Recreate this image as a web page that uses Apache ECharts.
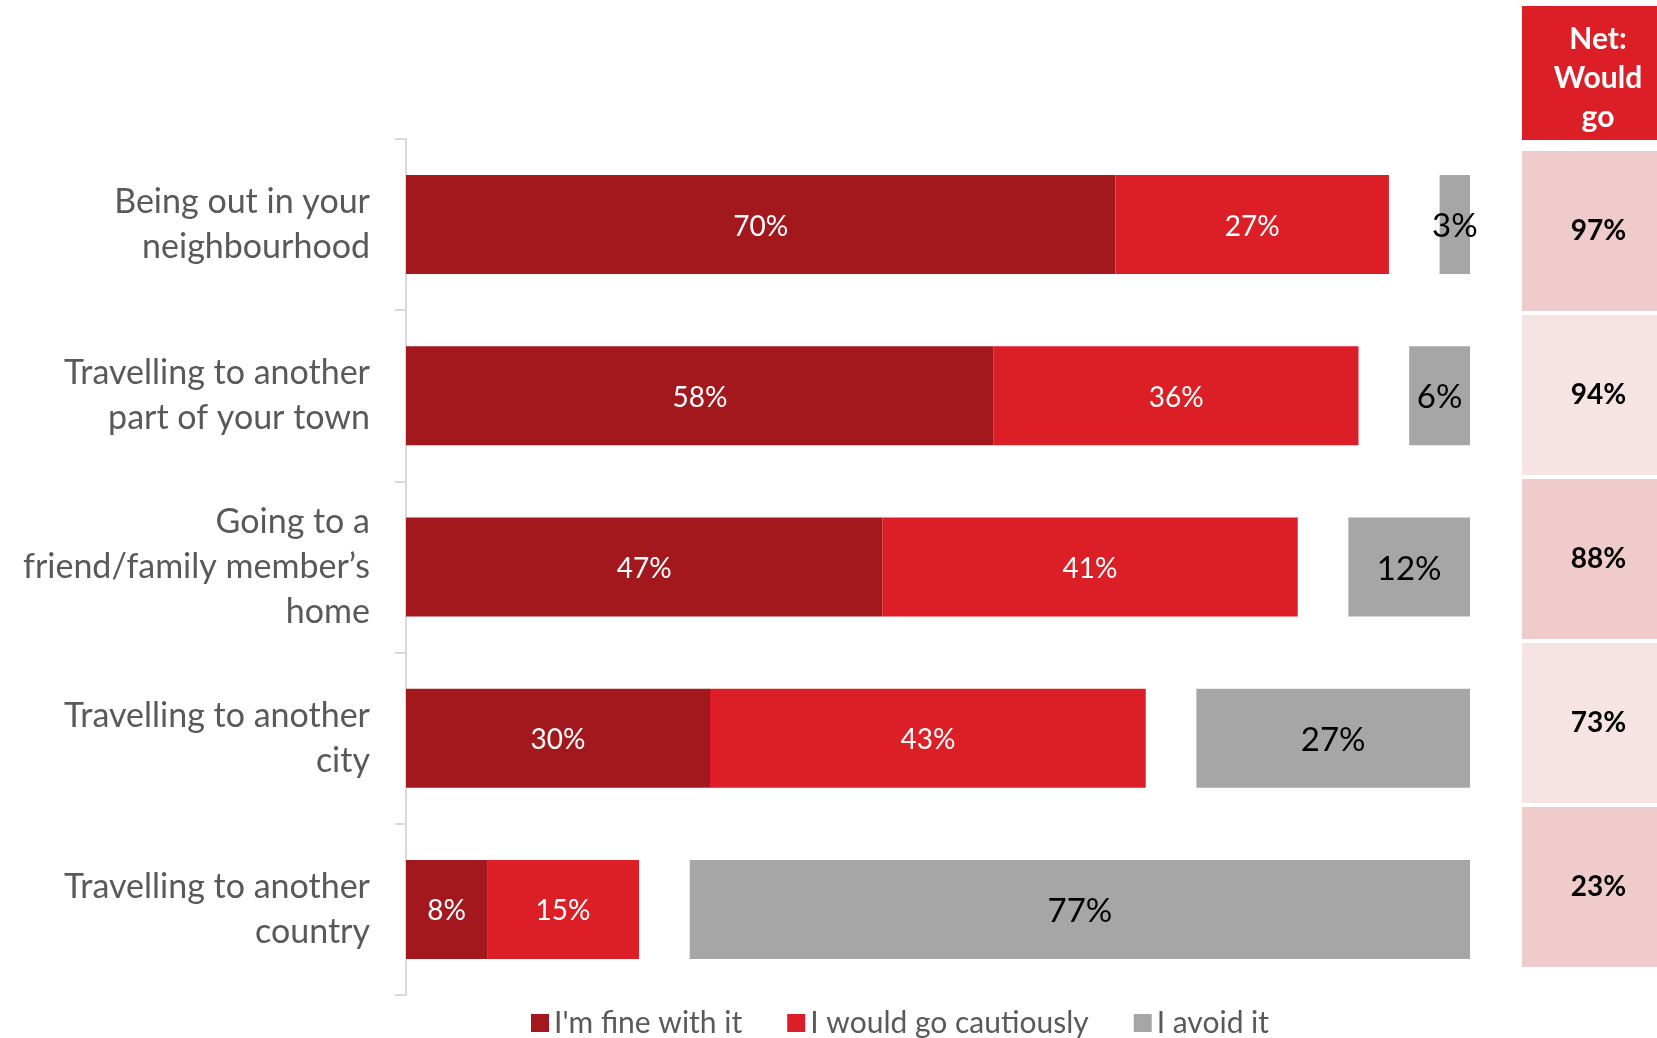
<!DOCTYPE html>
<html>
<head>
<meta charset="utf-8">
<script src="https://cdn.jsdelivr.net/npm/echarts@6/dist/echarts.min.js"></script>
<style>
html,body{margin:0;padding:0;background:#fff;}
#chart{width:1657px;height:1038px;}
</style>
</head>
<body>
<div id="chart"></div>
<script>
const categories = [
  "Being out in your\nneighbourhood",
  "Travelling to another\npart of your town",
  "Going to a\nfriend/family member\u2019s\nhome",
  "Travelling to another\ncity",
  "Travelling to another\ncountry"
];
const fineValues = [70, 58, 47, 30, 8];
const cautiousValues = [27, 36, 41, 43, 15];
const avoidValues = [3, 6, 12, 27, 77];
const netValues = [97, 94, 88, 73, 23];
const seriesNames = ["I'm fine with it", "I would go cautiously", "I avoid it"];
const headerText = "Net:\nWould\ngo";
const GAP = 5;

const FONT = 'Lato';
const chart = echarts.init(document.getElementById('chart'));

const cellColors = ['#f0cbcc', '#f6e4e5'];

chart.setOption({
  animation: false,
  textStyle: { fontFamily: FONT },
  grid: [
    { left: 406, right: 187, top: 139, height: 856 },
    { left: 1522, right: 0, top: 149, height: 820 }
  ],
  legend: {
    data: seriesNames,
    left: 531,
    top: 1008,
    padding: 0,
    itemWidth: 18,
    itemHeight: 18,
    itemGap: 45,
    icon: 'rect',
    textStyle: { fontFamily: FONT, fontSize: 30, color: '#595959', padding: [0, 0, 0, 0] }
  },
  xAxis: [
    { gridIndex: 0, type: 'value', min: 0, max: 105, show: false },
    { gridIndex: 1, type: 'value', min: 0, max: 1, show: false }
  ],
  yAxis: [
    {
      gridIndex: 0, type: 'category', data: categories, inverse: true,
      axisLine: { lineStyle: { color: '#d9d9d9', width: 2 } },
      axisTick: { show: true, length: 11, lineStyle: { color: '#d9d9d9', width: 2 } },
      axisLabel: { fontFamily: FONT, fontSize: 34, color: '#595959', margin: 36, lineHeight: 45, align: 'right', padding: [4, 0, 0, 0] }
    },
    { gridIndex: 1, type: 'category', data: categories, inverse: true, show: false }
  ],
  graphic: [
    { type: 'rect', left: 1522, top: 6, shape: { width: 160, height: 134 }, style: { fill: '#dc1f26' }, z: 10 },
    { type: 'text', x: 1598, y: 78, style: { text: headerText, fill: '#fff', font: 'bold 30px Lato', lineHeight: 39, align: 'center', verticalAlign: 'middle' }, z: 11 }
  ],
  series: [
    {
      name: seriesNames[0], type: 'bar', stack: 's', barWidth: 99,
      xAxisIndex: 0, yAxisIndex: 0,
      data: fineValues,
      itemStyle: { color: '#a3181d' },
      label: { show: true, position: 'inside', offset: [0, 2], formatter: '{c}%', color: '#fff', fontSize: 28, fontFamily: FONT }
    },
    {
      name: seriesNames[1], type: 'bar', stack: 's', barWidth: 99,
      xAxisIndex: 0, yAxisIndex: 0,
      data: cautiousValues,
      itemStyle: { color: '#dc1f26' },
      label: { show: true, position: 'inside', offset: [0, 2], formatter: '{c}%', color: '#fff', fontSize: 28, fontFamily: FONT }
    },
    {
      name: 'gap', type: 'bar', stack: 's', barWidth: 99,
      xAxisIndex: 0, yAxisIndex: 0,
      data: categories.map(() => GAP),
      itemStyle: { color: 'rgba(0,0,0,0)' },
      silent: true,
      label: { show: false }
    },
    {
      name: seriesNames[2], type: 'bar', stack: 's', barWidth: 99,
      xAxisIndex: 0, yAxisIndex: 0,
      data: avoidValues,
      itemStyle: { color: '#a6a6a6' },
      label: { show: true, position: 'inside', offset: [0, 2], formatter: '{c}%', color: '#000', fontSize: 33, fontFamily: FONT }
    },
    {
      name: 'net', type: 'bar', xAxisIndex: 1, yAxisIndex: 1,
      barCategoryGap: '2.5%',
      data: netValues.map((v, i) => ({ value: 1, itemStyle: { color: cellColors[i % 2] } })),
      silent: true,
      label: {
        show: true, position: 'inside', offset: [9, 0],
        formatter: p => netValues[p.dataIndex] + '%',
        color: '#000', fontSize: 28, fontWeight: 'bold', fontFamily: FONT
      }
    }
  ]
});
</script>
</body>
</html>
